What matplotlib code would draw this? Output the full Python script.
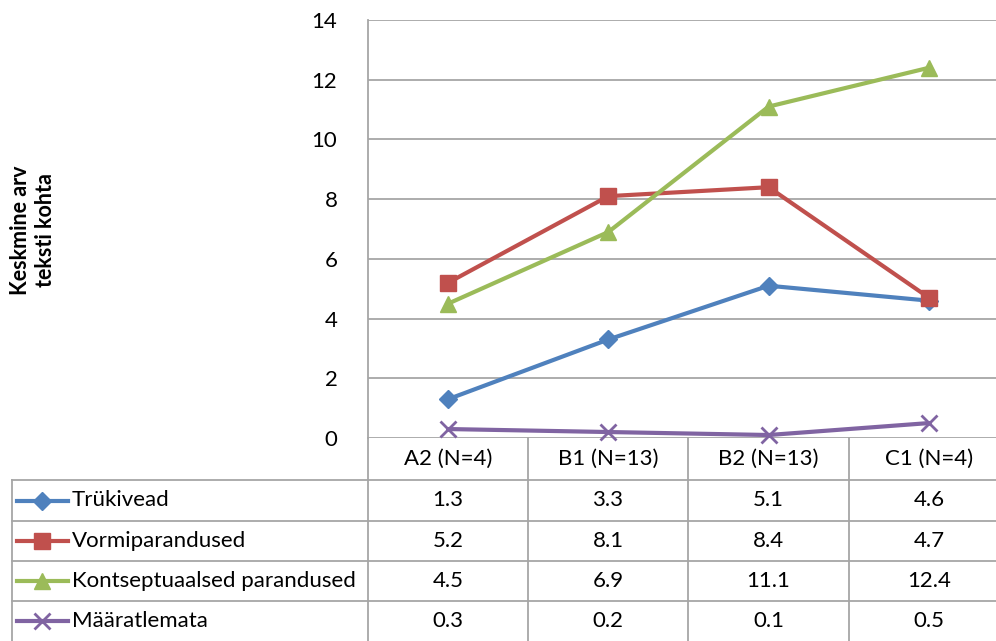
import matplotlib.pyplot as plt
from matplotlib.lines import Line2D

categories = ['A2 (N=4)', 'B1 (N=13)', 'B2 (N=13)', 'C1 (N=4)']
trukivead = [1.3, 3.3, 5.1, 4.6]
vormiparandused = [5.2, 8.1, 8.4, 4.7]
kontseptuaalsed = [4.5, 6.9, 11.1, 12.4]
maaratlemata = [0.3, 0.2, 0.1, 0.5]

series = [
    ('Trükivead', trukivead, '#4F81BD', 'D', 9),
    ('Vormiparandused', vormiparandused, '#C0504D', 's', 11),
    ('Kontseptuaalsed parandused', kontseptuaalsed, '#9BBB59', '^', 11),
    ('Määratlemata', maaratlemata, '#8064A2', 'x', 11),
]

plt.rcParams['font.family'] = ['Lato', 'DejaVu Sans']
W, H = 996, 641
grid_col = '#A6A6A6'
fs = 16

fig = plt.figure(figsize=(W / 100, H / 100), dpi=100)

# pixel helpers
def fx(px):
    return px / W

def fy(py):
    return 1 - py / H

left, right, top, bottom = 368, 1009, 20, 438
ax = fig.add_axes([fx(left), fy(bottom), fx(right - left), fy(top) - fy(bottom)])
x = list(range(len(categories)))
for name, vals, col, mk, ms in series:
    ax.plot(x, vals, color=col, lw=3, marker=mk, markersize=ms,
            markeredgewidth=2 if mk == 'x' else 1, markeredgecolor=col,
            solid_capstyle='round', zorder=3, clip_on=False)
ax.set_xlim(-0.5, len(categories) - 0.5)
ax.set_ylim(0, 14)
ax.set_yticks(range(0, 15, 2))
ax.yaxis.grid(True, color=grid_col, lw=1.3)
ax.set_axisbelow(True)
ax.set_xticks([])
ax.tick_params(axis='y', length=0, pad=22, labelsize=fs)
for s in ['top', 'right', 'bottom']:
    ax.spines[s].set_visible(False)
ax.spines['left'].set_color(grid_col)
ax.spines['left'].set_linewidth(1.3)

fig.text(fx(33), fy(230), 'Keskmine arv\nteksti kohta', rotation=90,
         ha='center', va='center', fontsize=15.5, fontweight='bold',
         linespacing=1.25)

# data table below the plot
tab = fig.add_axes([0, 0, 1, 1])
tab.set_xlim(0, W)
tab.set_ylim(H, 0)
tab.axis('off')

col_edges = [368, 528, 688, 849, 1009]
row_edges = [438, 480, 521, 561, 601, 641]
tab_left = 12

for xe in col_edges:
    tab.plot([xe, xe], [row_edges[0], H + 5], color=grid_col, lw=1.3)
tab.plot([tab_left, tab_left], [row_edges[1], H + 5], color=grid_col, lw=1.3)
for ye in row_edges[1:-1]:
    tab.plot([tab_left, W], [ye, ye], color=grid_col, lw=1.3)

centers = [(col_edges[i] + col_edges[i + 1]) / 2 for i in range(len(categories))]
hy = (row_edges[0] + row_edges[1]) / 2
for cx, cat in zip(centers, categories):
    tab.text(cx, hy, cat, ha='center', va='center', fontsize=fs)

for r, (name, vals, col, mk, ms) in enumerate(series):
    ry = (row_edges[r + 1] + row_edges[r + 2]) / 2
    tab.add_line(Line2D([17, 68], [ry, ry], color=col, lw=3))
    tab.plot([42], [ry], marker=mk, color=col, markersize=ms,
             markeredgewidth=2 if mk == 'x' else 1, markeredgecolor=col)
    tab.text(72, ry, name, ha='left', va='center', fontsize=fs)
    for cx, v in zip(centers, vals):
        tab.text(cx, ry, f'{v:.1f}', ha='center', va='center', fontsize=fs)

fig.savefig('out.png', dpi=100)
